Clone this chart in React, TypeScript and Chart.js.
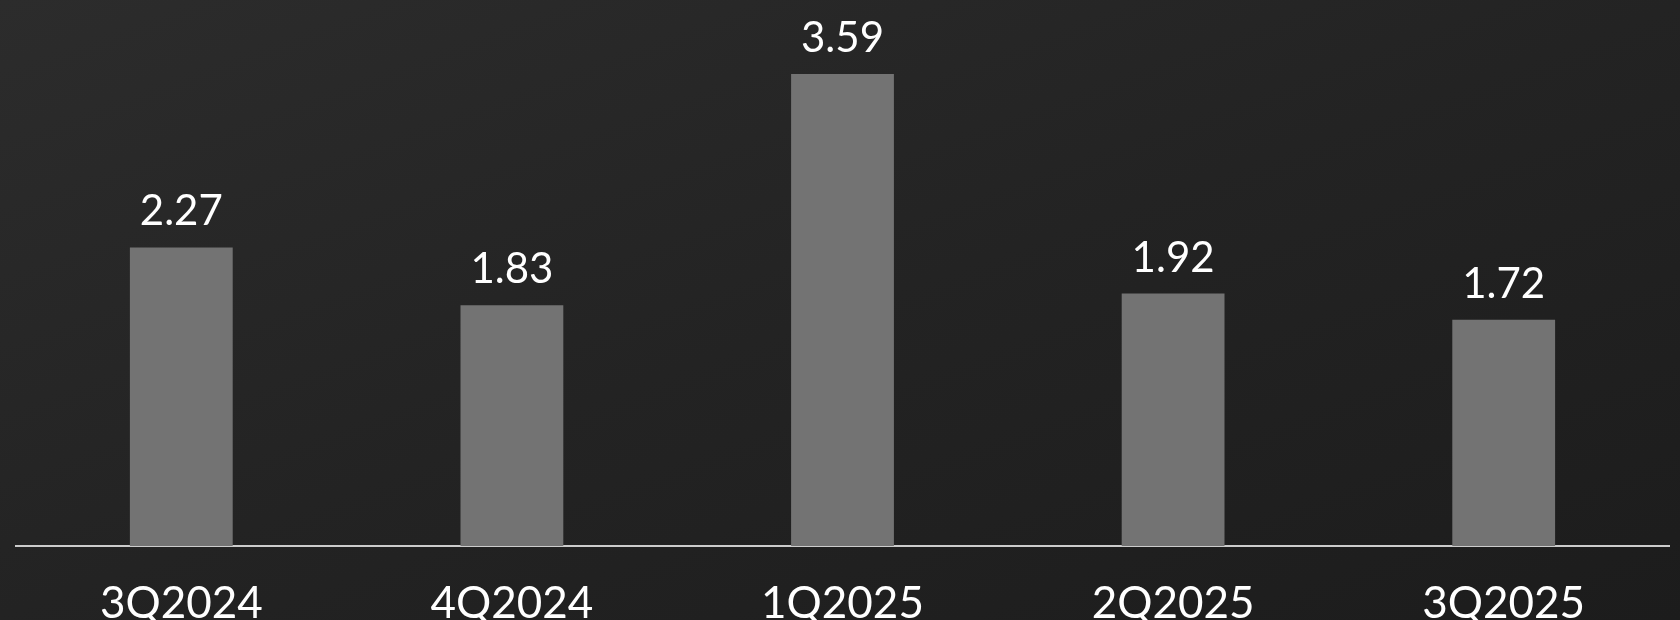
import React, { useEffect, useRef } from "react";
import { Chart, registerables } from "chart.js";

Chart.register(...registerables);

const categories = ["3Q2024", "4Q2024", "1Q2025", "2Q2025", "3Q2025"];
const values = [2.27, 1.83, 3.59, 1.92, 1.72];
const valueLabels = ["2.27", "1.83", "3.59", "1.92", "1.72"];

const FONT = "Lato, 'Open Sans', sans-serif";

const valueLabelPlugin = {
  id: "valueLabels",
  afterDatasetsDraw(chart: any) {
    const ctx = chart.ctx;
    const meta = chart.getDatasetMeta(0);
    ctx.save();
    ctx.fillStyle = "#ffffff";
    ctx.font = `400 42px ${FONT}`;
    ctx.textAlign = "center";
    ctx.textBaseline = "alphabetic";
    meta.data.forEach((bar: any, i: number) => {
      ctx.fillText(valueLabels[i], bar.x, bar.y - 22);
    });
    ctx.restore();
  },
};

export default function App() {
  const ref = useRef<HTMLCanvasElement | null>(null);
  useEffect(() => {
    document.body.style.margin = "0";
    const chart = new Chart(ref.current as HTMLCanvasElement, {
      type: "bar",
      data: {
        labels: categories,
        datasets: [
          {
            data: values,
            backgroundColor: "#737373",
            borderWidth: 0,
            barPercentage: 0.311,
            categoryPercentage: 1,
          },
        ],
      },
      options: {
        responsive: false,
        devicePixelRatio: 1,
        animation: false,
        layout: { padding: { top: 20, left: 16, right: 11, bottom: 0 } },
        plugins: { legend: { display: false }, tooltip: { enabled: false } },
        scales: {
          y: { display: false, min: 0, max: 4 },
          x: {
            grid: { display: false, drawTicks: false },
            border: { display: true, color: "#cccccc", width: 2 },
            ticks: {
              color: "#ffffff",
              font: { family: FONT, size: 44, weight: "400" as any },
              padding: 31,
              maxRotation: 0,
              autoSkip: false,
            },
            afterFit: (s: any) => {
              s.height = 74;
            },
          },
        },
      },
      plugins: [valueLabelPlugin],
    });
    return () => chart.destroy();
  }, []);
  return (
    <div
      style={{
        position: "absolute",
        left: 0,
        top: 0,
        width: 1680,
        height: 620,
        overflow: "hidden",
        background: "linear-gradient(160deg, #2c2c2c 0%, #232323 50%, #1c1c1c 100%)",
      }}
    >
      <canvas ref={ref} width={1680} height={620} style={{ width: 1680, height: 620 }} />
    </div>
  );
}
